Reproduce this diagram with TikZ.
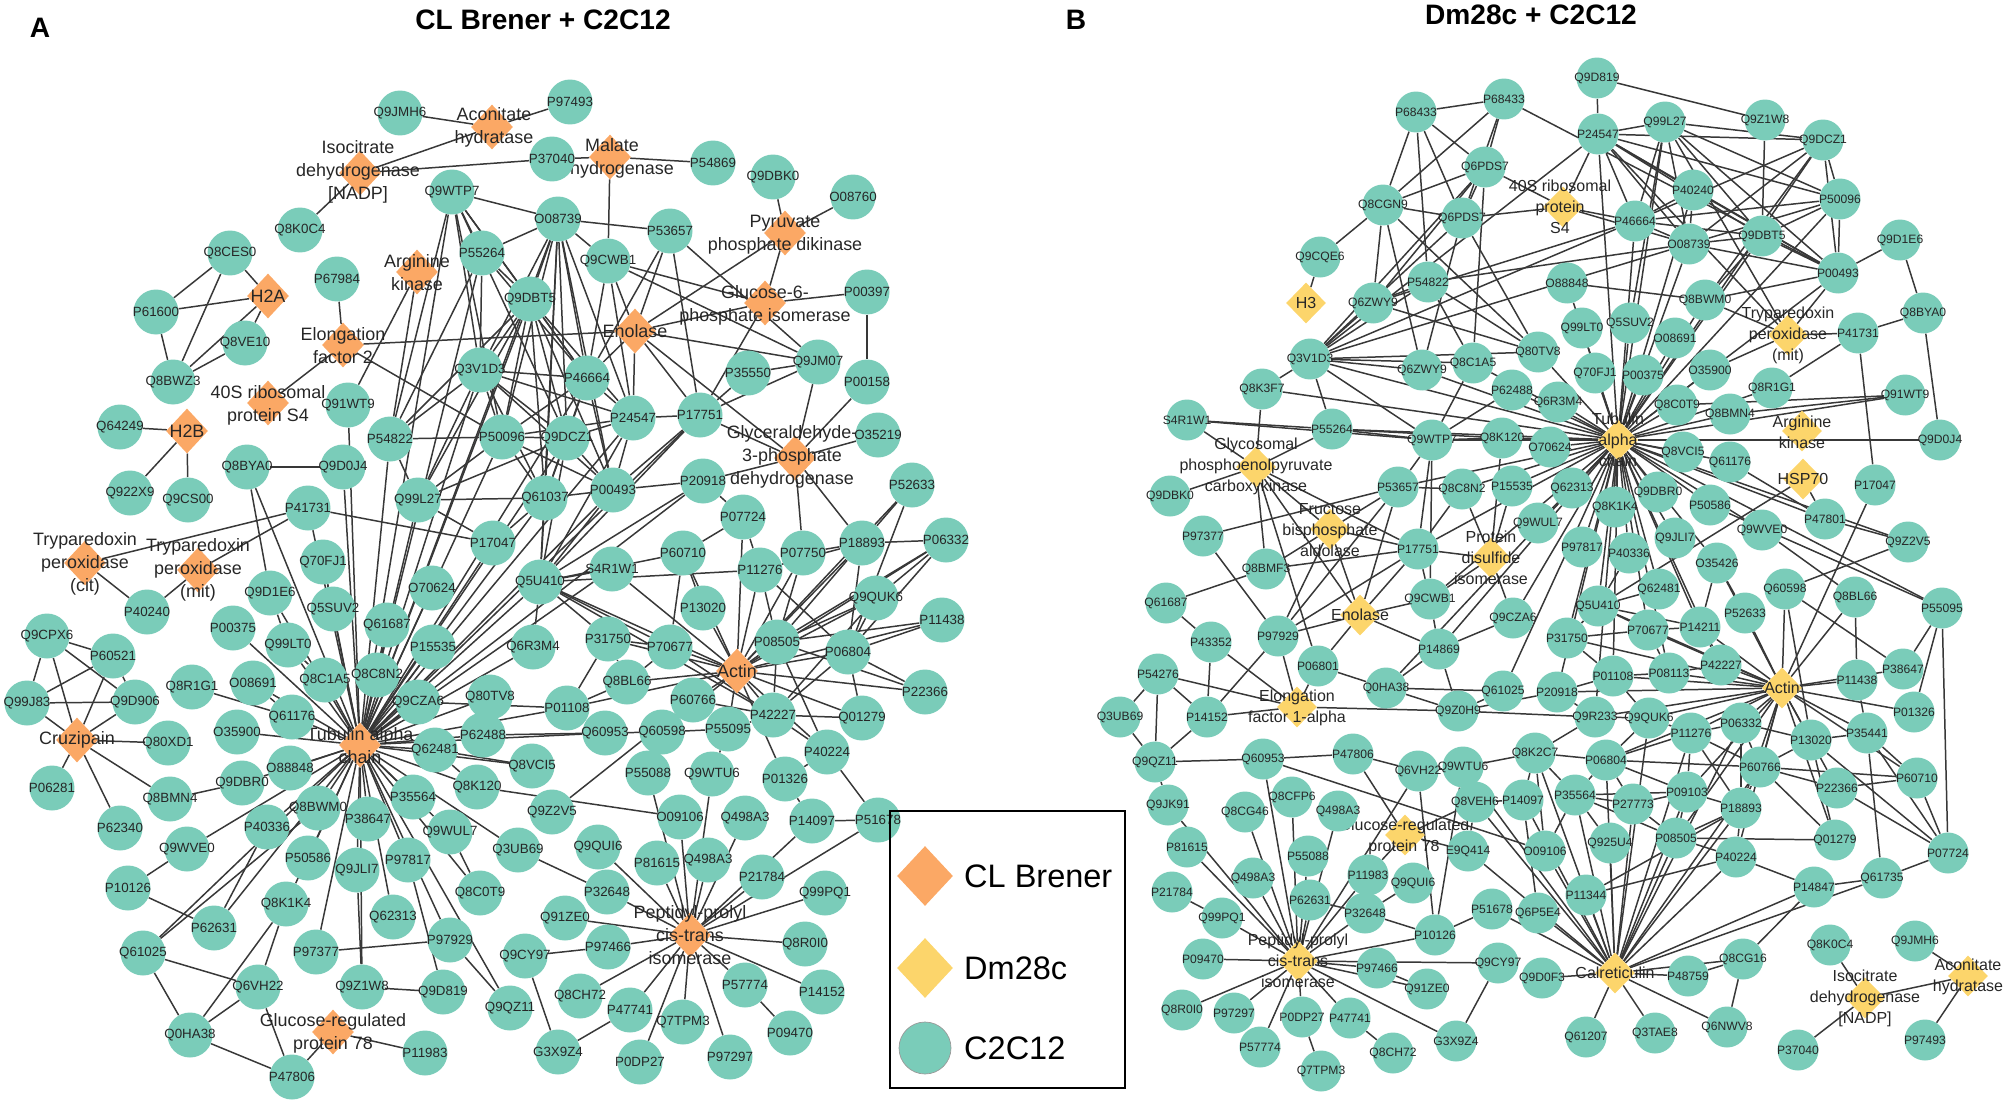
\documentclass[tikz,border=0pt]{standalone}
\usepackage{fontspec}
\setmainfont{Liberation Sans}
\usetikzlibrary{shapes.geometric,backgrounds}
\begin{document}
\begin{tikzpicture}[x=0.02cm,y=-0.02cm,
 prot/.style={circle,fill=mouse,minimum size=0.9cm,inner sep=0pt,font=\fontsize{7.6}{8}\selectfont,text=black!85},
 protb/.style={circle,fill=mouse,minimum size=0.82cm,inner sep=0pt,font=\fontsize{6.9}{7.5}\selectfont,text=black!85},
 cl/.style={diamond,fill=brener,minimum width=0.84cm,minimum height=0.9cm,inner sep=0pt},
 dm/.style={diamond,fill=dmc,minimum width=0.8cm,minimum height=0.82cm,inner sep=0pt},
 dlab/.style={align=center,font=\fontsize{10.2}{13}\selectfont,text=black!85,inner sep=0pt},
 dlabb/.style={align=center,font=\fontsize{9.1}{11.9}\selectfont,text=black!85,inner sep=0pt},
 link/.style={draw=black!78,line width=0.85pt}]
 \definecolor{mouse}{HTML}{7ACCB9}
 \definecolor{brener}{HTML}{FBA865}
 \definecolor{dmc}{HTML}{FCD56B}
 \useasboundingbox (0,0) rectangle (2007,1102);

 \node[font=\bfseries\fontsize{16}{19}\selectfont] (tagA) at (40,28) {A};
 \node[font=\bfseries\fontsize{16}{19}\selectfont] (tagB) at (1076,20) {B};
 \node[font=\bfseries\fontsize{16}{19}\selectfont] (titleA) at (543,20) {CL Brener + C2C12};
 \node[font=\bfseries\fontsize{16}{19}\selectfont] (titleB) at (1531,15) {Dm28c + C2C12};

 % panel A
 \node[cl] (aIDH) at (360,173) {};
 \node[cl] (aACO) at (492,127) {};
 \node[cl] (aMDH) at (610,157) {};
 \node[cl] (aPPDK) at (785,233) {};
 \node[cl] (aARK) at (417,272) {};
 \node[cl] (aH2A) at (268,296) {};
 \node[cl] (aEF2) at (343,345) {};
 \node[cl] (aG6PI) at (765,303) {};
 \node[cl] (aENO) at (635,331) {};
 \node[cl] (aRPS4) at (268,403) {};
 \node[cl] (aH2B) at (187,431) {};
 \node[cl] (aGAPDH) at (795,458) {};
 \node[cl] (aTXNc) at (85,563) {};
 \node[cl] (aTXNm) at (198,570) {};
 \node[cl] (aACT) at (737,671) {};
 \node[cl] (aCZP) at (77,740) {};
 \node[cl] (aTUB) at (360,745) {};
 \node[cl] (aPPI) at (690,935) {};
 \node[cl] (aGRP) at (333,1032) {};

 \node[dlab] (aIDH-t) at (358,172) {Isocitrate\\dehydrogenase\\{[NADP]}};
 \node[dlab] (aACO-t) at (494,127) {Aconitate\\hydratase};
 \node[dlab] (aMDH-t) at (612,158) {Malate\\dehydrogenase};
 \node[dlab] (aPPDK-t) at (785,235) {Pyruvate\\phosphate dikinase};
 \node[dlab] (aARK-t) at (417,273) {Arginine\\kinase};
 \node[dlab] (aH2A-t) at (268,296) {H2A};
 \node[dlab] (aEF2-t) at (343,346) {Elongation\\factor 2};
 \node[dlab] (aG6PI-t) at (765,305) {Glucose-6-\\phosphate isomerase};
 \node[dlab] (aENO-t) at (635,331) {Enolase};
 \node[dlab] (aRPS4-t) at (268,405) {40S ribosomal\\protein S4};
 \node[dlab] (aH2B-t) at (187,431) {H2B};
 \node[dlab] (aGAPDH-t) at (792,457) {Glyceraldehyde-\\3-phosphate\\dehydrogenase};
 \node[dlab] (aTXNc-t) at (85,564) {Tryparedoxin\\peroxidase\\(cit)};
 \node[dlab] (aTXNm-t) at (198,570) {Tryparedoxin\\peroxidase\\(mit)};
 \node[dlab] (aACT-t) at (737,671) {Actin};
 \node[dlab] (aCZP-t) at (77,740) {Cruzipain};
 \node[dlab] (aTUB-t) at (360,746) {Tubulin alpha\\chain};
 \node[dlab] (aPPI-t) at (690,935) {Peptidyl-prolyl\\cis-trans\\isomerase};
 \node[dlab] (aGRP-t) at (333,1033) {Glucose-regulated\\protein 78};

 \foreach \nm/\xx/\yy in {Q9JMH6/400/113, P97493/570/102, P37040/552/159, P54869/713/163, Q9DBK0/773/177, O08760/853/197, Q8K0C4/300/230, Q9WTP7/452/192, O08739/558/219, P53657/670/231, Q8CES0/230/253, P55264/482/253, Q9CWB1/608/261, P67984/337/279, P61600/156/312, Q8VE10/245/343, P00397/867/292, Q9DBT5/530/299, Q8BWZ3/173/382, Q91WT9/348/405, Q3V1D3/480/370, P46664/587/378, P35550/748/373, Q9JM07/818/362, P00158/867/382, Q64249/120/427, P54822/390/439, P24547/633/418, P17751/700/415, P50096/502/437, Q9DCZ1/567/438, O35219/878/435, Q8BYA0/247/467, Q9D0J4/343/467, Q922X9/130/493, Q9CS00/188/500, Q99L27/418/500, P41731/308/508, P20918/703/481, P00493/613/490, Q61037/545/498, P52633/912/485, P07724/743/517, P17047/493/543, P06332/946/540, P18893/862/543, P60710/683/553, P07750/803/553, Q70FJ1/323/562, S4R1W1/612/569, P11276/760/570, Q5U410/540/582, O70624/432/588, Q9D1E6/270/593, Q9QUK6/876/598, P13020/703/608, Q5SUV2/333/609, P40240/147/612, P11438/942/620, Q61687/387/625, P00375/233/628, Q9CPX6/47/636, P31750/608/639, Q99LT0/288/645, P15535/433/647, Q6R3M4/533/647, P70677/670/647, P08505/777/642, P06804/848/652, P60521/113/656, Q8C1A5/325/680, Q8C8N2/377/675, Q8BL66/627/682, Q8R1G1/192/687, O08691/253/683, P22366/925/692, Q80TV8/490/697, P60766/693/700, Q99J83/27/703, Q9D906/135/702, Q9CZA6/418/702, P01108/567/708, P42227/773/715, Q01279/862/718, Q61176/292/717, O35900/237/732, P62488/483/735, Q60953/605/733, Q60598/662/732, P55095/728/729, Q80XD1/168/743, Q62481/435/750, P40224/827/752, Q8VCI5/532/766, O88848/290/768, P55088/648/773, Q9WTU6/712/774, P01326/785/779, Q9DBR0/242/783, Q8K120/477/787, P06281/52/788, P35564/413/797, Q8BMN4/170/799, Q8BWM0/318/808, Q9Z2V5/552/812, O09106/680/817, P14097/812/821, P51678/878/820, P38647/368/819, P40336/267/827, P62340/120/828, Q9WUL7/450/832, Q9WVE0/187/849, Q3UB69/518/850, Q9QUI6/598/847, P50586/308/858, P97817/408/860, P81615/657/863, Q9JLI7/357/870, P21784/762/877, P10126/128/888, Q8C0T9/480/893, P32648/607/892, Q99PQ1/825/893, Q8K1K4/286/904, Q62313/393/917, Q91ZE0/565/918, P62631/214/928, P97929/450/940, P97466/608/947, Q8R0I0/805/944, P97377/316/952, Q61025/143/953, Q9CY97/525/956, P57774/745/985, Q6VH22/258/987, Q9Z1W8/362/987, Q9D819/443/992, P14152/822/992, Q8CH72/580/996, Q9QZ11/510/1008, P47741/630/1010, Q7TPM3/683/1022, P09470/790/1033, Q0HA38/190/1035, P11983/425/1053, G3X9Z4/558/1052, P97297/730/1057, P0DP27/640/1062, P47806/292/1077}
  \node[prot] (a\nm) at (\xx,\yy) {\makebox[0pt]{\nm}};
 \node[prot] (aQ498A3a) at (745,818) {\makebox[0pt]{Q498A3}};
 \node[prot] (aQ498A3b) at (708,860) {\makebox[0pt]{Q498A3}};

 % panel B
 \node[dm] (bH3) at (1306,303) {};
 \node[dm] (bRPS4) at (1563,207) {};
 \node[dm] (bTXNm) at (1788,335) {};
 \node[dm] (bTUB) at (1618,440) {};
 \node[dm] (bARK) at (1802,431) {};
 \node[dm] (bHSP) at (1803,479) {};
 \node[dm] (bPEPCK) at (1256,467) {};
 \node[dm] (bFBA) at (1330,529) {};
 \node[dm] (bPDI) at (1491,558) {};
 \node[dm] (bENO) at (1360,615) {};
 \node[dm] (bEF1) at (1297,707) {};
 \node[dm] (bACT) at (1782,688) {};
 \node[dm] (bGRP) at (1405,835) {};
 \node[dm] (bPPI) at (1298,961) {};
 \node[dm] (bCRT) at (1615,973) {};
 \node[dm] (bIDH) at (1865,998) {};
 \node[dm] (bACO) at (1968,976) {};

 \node[dlabb] (bH3-t) at (1306,303) {H3};
 \node[dlabb] (bRPS4-t) at (1560,207) {40S ribosomal\\protein\\S4};
 \node[dlabb] (bTXNm-t) at (1788,335) {Tryparedoxin\\peroxidase\\(mit)};
 \node[dlabb] (bTUB-t) at (1618,440) {Tubulin\\alpha\\chain};
 \node[dlabb] (bARK-t) at (1802,432) {Arginine\\kinase};
 \node[dlabb] (bHSP-t) at (1803,479) {HSP70};
 \node[dlabb] (bPEPCK-t) at (1256,466) {Glycosomal\\phosphoenolpyruvate\\carboxykinase};
 \node[dlabb] (bFBA-t) at (1330,530) {Fructose\\bisphosphate\\aldolase};
 \node[dlabb] (bPDI-t) at (1491,558) {Protein\\disulfide\\isomerase};
 \node[dlabb] (bENO-t) at (1360,615) {Enolase};
 \node[dlabb] (bEF1-t) at (1297,708) {Elongation\\factor 1-alpha};
 \node[dlabb] (bACT-t) at (1782,688) {Actin};
 \node[dlabb] (bGRP-t) at (1404,837) {Glucose-regulated\\protein 78};
 \node[dlabb] (bPPI-t) at (1298,961) {Peptidyl-prolyl\\cis-trans\\isomerase};
 \node[dlabb] (bCRT-t) at (1615,973) {Calreticulin};
 \node[dlabb] (bIDH-t) at (1865,998) {Isocitrate\\dehydrogenase\\{[NADP]}};
 \node[dlabb] (bACO-t) at (1968,977) {Aconitate\\hydratase};

 \foreach \nm/\xx/\yy in {Q9D819/1597/78, P24547/1598/134, Q99L27/1665/122, Q9Z1W8/1765/120, Q9DCZ1/1823/140, P40240/1693/190, P50096/1840/199, Q8CGN9/1383/205, P46664/1635/221, O08739/1689/244, Q9DBT5/1762/236, Q9D1E6/1900/240, Q9CQE6/1320/257, P00493/1838/273, P54822/1428/282, O88848/1567/283, Q8BWM0/1705/300, Q8BYA0/1923/313, Q99LT0/1582/328, Q5SUV2/1630/323, O08691/1675/338, P41731/1858/333, Q80TV8/1538/352, Q3V1D3/1310/359, Q8C1A5/1473/363, Q70FJ1/1595/373, P00375/1643/375, O35900/1710/370, Q8R1G1/1772/388, Q91WT9/1905/395, Q8K3F7/1262/389, P62488/1512/390, Q6R3M4/1558/402, Q8C0T9/1677/405, Q8BMN4/1730/414, S4R1W1/1187/420, P55264/1332/429, Q9WTP7/1432/440, Q8K120/1502/438, Q9D0J4/1940/440, O70624/1550/447, Q8VCI5/1683/452, Q61176/1730/462, P17047/1875/485, Q62313/1572/488, Q9DBR0/1658/492, Q9DBK0/1170/496, P53657/1398/487, Q8C8N2/1462/489, P15535/1512/486, Q8K1K4/1615/507, P50586/1710/505, P47801/1825/519, Q9WUL7/1538/523, P97377/1203/536, Q9JLI7/1675/538, Q9WVE0/1762/530, Q9Z2V5/1908/542, P97817/1582/547, P40336/1629/553, P17751/1418/549, O35426/1717/563, Q8BMF3/1266/569, Q62481/1659/589, Q60598/1785/589, Q8BL66/1855/597, Q9CWB1/1430/599, Q61687/1166/603, Q5U410/1598/606, P55095/1942/608, P52633/1745/613, Q9CZA6/1513/618, P70677/1648/630, P14211/1700/627, P31750/1567/638, P97929/1278/636, P43352/1211/642, P14869/1439/649, P42227/1721/665, P38647/1903/669, P06801/1318/666, P54276/1158/674, P01108/1613/676, P08113/1669/673, P11438/1857/680, Q0HA38/1386/688, Q61025/1503/691, P20918/1557/692, Q9Z0H9/1458/711, P01326/1914/712, Q3UB69/1120/717, P14152/1207/717, Q9R233/1595/717, Q9QUK6/1649/718, P06332/1741/723, P11276/1691/733, P13020/1811/740, P35441/1867/733, Q8K2C7/1535/753, P47806/1353/754, Q60953/1263/759, Q9QZ11/1155/762, P06804/1606/760, P60766/1760/767, Q6VH22/1418/771, Q9WTU6/1463/767, P60710/1917/778, P35564/1575/795, P09103/1687/792, P22366/1837/788, P14097/1523/800, Q8VEH6/1475/802, Q8CFP6/1292/797, P27773/1633/804, P18893/1741/808, Q9JK91/1168/805, Q8CG46/1245/812, P08505/1676/838, Q925U4/1610/843, Q01279/1835/840, P81615/1187/847, O09106/1545/851, E9Q414/1468/851, P55088/1308/856, P07724/1948/853, P40224/1736/857, P11983/1368/875, Q61735/1882/878, Q9QUI6/1413/883, P14847/1814/887, P21784/1172/892, P11344/1586/895, P62631/1310/900, P51678/1492/909, Q6P5E4/1538/913, P32648/1365/913, Q99PQ1/1222/918, P10126/1435/935, Q9JMH6/1915/941, Q8K0C4/1830/945, P09470/1203/959, Q8CG16/1743/959, Q9CY97/1498/963, P97466/1377/968, P48759/1688/976, Q9D0F3/1542/978, Q91ZE0/1427/989, Q8R0I0/1182/1010, P97297/1234/1013, P0DP27/1302/1017, P47741/1350/1018, Q6NWV8/1727/1027, Q3TAE8/1655/1033, Q61207/1586/1037, P97493/1925/1040, G3X9Z4/1456/1041, P57774/1260/1047, P37040/1798/1050, Q8CH72/1393/1053, Q7TPM3/1321/1071}
  \node[protb] (b\nm) at (\xx,\yy) {\makebox[0pt]{\nm}};
 \node[protb] (bP68433a) at (1416,112) {\makebox[0pt]{P68433}};
 \node[protb] (bP68433b) at (1504,99) {\makebox[0pt]{P68433}};
 \node[protb] (bQ6PDS7a) at (1485,167) {\makebox[0pt]{Q6PDS7}};
 \node[protb] (bQ6PDS7b) at (1462,218) {\makebox[0pt]{Q6PDS7}};
 \node[protb] (bQ6ZWY9a) at (1373,303) {\makebox[0pt]{Q6ZWY9}};
 \node[protb] (bQ6ZWY9b) at (1422,370) {\makebox[0pt]{Q6ZWY9}};
 \node[protb] (bQ498A3a) at (1338,811) {\makebox[0pt]{Q498A3}};
 \node[protb] (bQ498A3b) at (1253,878) {\makebox[0pt]{Q498A3}};

 % legend
 \draw[line width=1.3pt] (890,811) rectangle (1125,1088);
 \node[diamond,fill=brener,minimum width=1.12cm,minimum height=1.2cm,inner sep=0pt] (keyCL) at (925,876) {};
 \node[diamond,fill=dmc,minimum width=1.12cm,minimum height=1.2cm,inner sep=0pt] (keyDM) at (925,968) {};
 \node[circle,fill=mouse,draw=black!40,minimum size=1.04cm,inner sep=0pt] (keyMM) at (925,1048) {};
 \node[anchor=west,font=\fontsize{18.5}{22}\selectfont] (keyCL-t) at (958,876) {CL Brener};
 \node[anchor=west,font=\fontsize{18.5}{22}\selectfont] (keyDM-t) at (958,968) {Dm28c};
 \node[anchor=west,font=\fontsize{18.5}{22}\selectfont] (keyMM-t) at (958,1048) {C2C12};

 \begin{scope}[on background layer]
 \foreach \pb in {Q9WTP7,O08739,P55264,Q9DBT5,Q3V1D3,P46664,P50096,Q9DCZ1,P24547,P00493,Q61037,P54822,Q99L27,Q91WT9,Q9D0J4,Q8BYA0,Q70FJ1,Q5SUV2,Q9D1E6,Q99LT0,P00375,Q8C1A5,Q8C8N2,Q61687,O70624,P15535,Q9CZA6,Q62481,O08691,Q61176,O35900,O88848,Q9DBR0,Q8BWM0,P40336,Q9WVE0,P50586,Q8K1K4,Q9JLI7,P38647,P97817,P35564,Q9WUL7,Q62313,P97377,Q9Z1W8,P97929,Q9QZ11,Q8C0T9,Q3UB69,Q8K120,Q8VCI5,P62488,Q80TV8,Q6R3M4,Q5U410,P17047,S4R1W1,Q61025,P62631,P20918,P17751,Q60953,P01108,P41731}
  \draw[link] (aTUB) -- (a\pb);
 \foreach \pb in {P70677,P31750,P08505,P06804,P42227,P60766,P11276,P13020,P60710,P07724,P18893,P07750,P06332,Q9QUK6,P11438,P22366,Q01279,P40224,P55095,Q60598,Q8BL66,Q5U410,S4R1W1,P01108,P01326,P52633}
  \draw[link] (aACT) -- (a\pb);
 \foreach \pb in {P32648,Q9QUI6,P81615,P55088,O09106,Q9WTU6,P21784,P14097,P51678,Q99PQ1,Q8R0I0,P14152,P57774,P97297,Q7TPM3,P0DP27,P47741,Q8CH72,P97466,Q91ZE0,Q498A3a,Q498A3b}
  \draw[link] (aPPI) -- (a\pb);
 \foreach \pa/\pb in {Q9WTP7/O08739, Q9WTP7/P55264, Q9WTP7/Q9DBT5, Q9WTP7/Q3V1D3, Q9WTP7/P46664, Q9WTP7/P54822, Q9WTP7/Q9DCZ1, Q9WTP7/P50096, O08739/P53657, O08739/P55264, O08739/Q9CWB1, O08739/Q9DBT5, O08739/Q3V1D3, O08739/P46664, O08739/P24547, O08739/P50096, O08739/Q9DCZ1, O08739/P00493, O08739/Q61037, O08739/Q5U410, P55264/Q9DBT5, P55264/Q3V1D3, P55264/P46664, P55264/P54822, Q9DBT5/Q3V1D3, Q9DBT5/P46664, Q9DBT5/P50096, Q9DBT5/Q9DCZ1, Q9DBT5/P00493, Q9DBT5/Q61037, Q9DBT5/P54822, Q9DBT5/Q99L27, Q9DBT5/P24547, Q3V1D3/P46664, Q3V1D3/P50096, Q3V1D3/Q9DCZ1, Q3V1D3/P00493, Q3V1D3/Q61037, Q3V1D3/P54822, Q3V1D3/Q99L27, Q3V1D3/P24547, P46664/P24547, P46664/P50096, P46664/Q9DCZ1, P46664/P00493, P46664/Q61037, P46664/Q9CWB1, P50096/Q9DCZ1, P50096/P00493, P50096/Q61037, P50096/Q99L27, P50096/P24547, Q9DCZ1/P24547, Q9DCZ1/P00493, Q9DCZ1/Q61037, Q9DCZ1/Q5U410, P24547/P00493, P24547/P17751, P24547/Q5U410, P24547/Q9CWB1, P00493/Q61037, P00493/Q5U410, P00493/P20918, P00493/P17751, Q61037/Q5U410, Q61037/Q99L27, Q61037/P17047, P54822/Q99L27, P54822/P50096, Q99L27/Q9DCZ1, Q5U410/S4R1W1, Q5U410/P11276, Q5U410/P70677, Q5U410/P31750, Q5U410/P42227, Q5U410/P20918, Q5U410/P17751, Q5U410/P60710, Q5U410/Q6R3M4, P17047/Q99L27, P41731/P17047, ENO/Q9CWB1, ENO/P53657, ENO/P46664, ENO/P24547, ENO/P17751, ENO/GAPDH, ENO/Q9JM07, ENO/G6PI, ENO/PPDK, ENO/EF2, EF2/P67984, EF2/RPS4, EF2/P50096, PPDK/Q9DBK0, PPDK/O08760, PPDK/G6PI, G6PI/P00397, G6PI/P17751, G6PI/Q9CWB1, P53657/Q9JM07, P00397/P00158, Q9JM07/P35550, Q9JM07/P17751, Q9JM07/GAPDH, Q9JM07/Q9CWB1, P35550/P17751, GAPDH/P17751, GAPDH/P20918, GAPDH/O35219, GAPDH/P07750, GAPDH/P18893, GAPDH/P00158, P53657/P17751, P53657/P46664, MDH/P37040, MDH/P54869, MDH/Q9CWB1, ACO/Q9JMH6, ACO/P97493, ACO/IDH, IDH/P37040, IDH/Q8K0C4, ARK/Q91WT9, ARK/P54822, H2A/Q8CES0, H2A/P61600, H2A/Q8VE10, H2A/Q8BWZ3, Q8CES0/P61600, Q8CES0/Q8BWZ3, P61600/Q8BWZ3, Q8BWZ3/Q8VE10, H2B/Q64249, H2B/Q922X9, H2B/Q9CS00, TXNc/P41731, TXNc/P40240, TXNm/P41731, TXNm/P40240, Q8BYA0/Q9D0J4, Q8BYA0/Q9D1E6, Q9D1E6/Q99LT0, Q70FJ1/Q5SUV2, Q99LT0/Q8C1A5, Q8R1G1/Q61176, O08691/Q61176, CZP/Q9CPX6, CZP/P60521, CZP/Q99J83, CZP/Q9D906, CZP/Q80XD1, CZP/P06281, CZP/P62340, CZP/Q8BMN4, Q9CPX6/P60521, Q9CPX6/Q99J83, Q9CPX6/Q9D906, P60521/Q99J83, P60521/Q9D906, Q99J83/Q9D906, Q8BMN4/Q9DBR0, Q9WVE0/P10126, P10126/P62631, P62631/P40336, Q61025/Q8BWM0, Q61025/Q6VH22, Q61025/Q0HA38, Q0HA38/Q8K1K4, Q0HA38/Q6VH22, Q0HA38/P47806, Q6VH22/Q8K1K4, Q6VH22/P47806, P47806/GRP, GRP/P11983, Q9Z1W8/Q9D819, Q9Z1W8/Q9JLI7, P97377/P97929, P97929/Q9QZ11, Q9WUL7/Q8C0T9, P97817/Q9D819, Q8VCI5/Q62481, Q8K120/O09106, Q8K120/Q62481, Q9Z2V5/P60766, Q3UB69/P32648, P62488/Q60953, P62488/Q80TV8, Q60953/Q60598, Q60598/P55095, Q60598/P60766, P55095/P42227, P01108/P31750, P01108/Q8BL66, P01108/Q9CZA6, P31750/P70677, P31750/Q8BL66, P70677/Q8BL66, P70677/P60710, P70677/P42227, P13020/P60710, P60710/P07724, P20918/P07724, P07724/P11276, Q9WTU6/P55095, P01326/P14097, P14097/P51678, P51678/P40224, P40224/P42227, P40224/P01326, Q01279/P42227, P42227/P60766, P06332/P18893, P06332/Q9QUK6, P06332/P08505, P06332/P06804, P18893/P08505, P18893/P06804, P18893/P07750, P18893/P11276, Q9QUK6/P08505, Q9QUK6/P06804, Q9QUK6/P42227, P11438/P06804, P11438/P08505, P22366/P06804, P22366/P08505, Q01279/P06804, P40224/P08505, P42227/P08505, P42227/P06804, P11276/P08505, P11276/P06804, P07750/P08505, P52633/P18893, P52633/P06804, Q9CY97/P97466, Q9CY97/G3X9Z4, G3X9Z4/P47741, P57774/P09470}
  \draw[link] (a\pa) -- (a\pb);

 \foreach \pb in {P55264,Q9WTP7,Q8K120,O70624,Q6R3M4,Q8C0T9,Q8BMN4,Q8VCI5,Q61176,Q62313,Q8K1K4,Q9DBR0,P50586,Q9JLI7,Q9WVE0,P97817,P40336,Q9WUL7,O35426,Q62481,Q5U410,P31750,P70677,P14211,P42227,P01108,P08113,P20918,Q9R233,P15535,Q8C8N2,P53657,Q3V1D3,Q8C1A5,Q80TV8,P62488,Q99LT0,Q70FJ1,P00375,O08691,Q5SUV2,O88848,Q8BWM0,O08739,P46664,P24547,Q9CZA6,P17751,Q9D0J4,Q9Z2V5,P55095,P47801,Q0HA38,P14869,Q61025,Q8K3F7,Q9DCZ1,P50096,P00493,Q9DBT5,Q99L27,P40240,O35900,Q8R1G1,Q91WT9,Q6ZWY9b,Q9CWB1}
  \draw[link] (bTUB) -- (b\pb);
 \foreach \pb in {P42227,P14211,P08113,P70677,P31750,P01108,P06332,P11276,P13020,P35441,P11438,P38647,P01326,P60766,P60710,P22366,P18893,P08505,P09103,Q9QUK6,Q9R233,P52633,Q60598,O35426,P17047,Q01279,P20918,Q5U410,P06804,P40224,Q8BL66}
  \draw[link] (bACT) -- (b\pb);
 \foreach \pb in {P35564,Q925U4,P08505,P40224,P11344,Q6P5E4,O09106,Q9D0F3,P48759,Q8CG16,Q6NWV8,Q3TAE8,Q61207,P14847,Q61735,P18893,P09103,P27773,P06804,Q8K2C7,P11276,P06332,P14097,Q8VEH6,P51678,Q9WTU6,E9Q414,Q9QUK6,P60766}
  \draw[link] (bCRT) -- (b\pb);
 \foreach \pb in {Q9JK91,Q8CG46,Q8CFP6,P55088,P81615,Q99PQ1,P09470,Q8R0I0,P97297,P57774,P0DP27,P47741,G3X9Z4,P97466,Q9CY97,P10126,P32648,P62631,P11983,Q6VH22,Q60953,Q498A3a,Q498A3b,Q91ZE0}
  \draw[link] (bPPI) -- (b\pb);
 \foreach \pa/\pb in {P68433a/P68433b, P68433a/Q8CGN9, P68433a/Q6PDS7a, P68433a/Q6PDS7b, P68433a/P54822, P68433b/Q6PDS7a, P68433b/Q8CGN9, P68433b/Q6PDS7b, P68433b/P00493, Q6PDS7a/Q8CGN9, Q6PDS7a/Q6PDS7b, Q6PDS7a/RPS4, Q6PDS7a/Q6ZWY9a, Q6PDS7a/Q3V1D3, Q6PDS7a/Q8C1A5, Q6PDS7b/Q8CGN9, Q6PDS7b/RPS4, Q6PDS7b/Q3V1D3, Q6PDS7b/Q6ZWY9b, Q6PDS7b/Q80TV8, Q8CGN9/Q9CQE6, Q8CGN9/Q6ZWY9a, Q8CGN9/Q6ZWY9b, Q8CGN9/Q80TV8, H3/Q9CQE6, Q3V1D3/P54822, Q3V1D3/Q6ZWY9a, Q3V1D3/Q80TV8, Q3V1D3/Q8C1A5, Q3V1D3/O08739, Q3V1D3/P46664, Q3V1D3/P24547, Q3V1D3/P55264, Q3V1D3/Q8K3F7, Q3V1D3/Q6ZWY9b, P54822/Q6ZWY9a, P54822/Q8C1A5, P54822/Q80TV8, P54822/O08739, Q6ZWY9a/Q80TV8, Q6ZWY9a/P46664, Q9D819/P24547, Q9D819/Q9Z1W8, P24547/Q99L27, P24547/Q9DCZ1, P24547/P40240, P24547/P50096, P24547/P46664, P24547/O08739, P24547/Q9DBT5, P24547/P00493, P24547/RPS4, Q99L27/Q9DCZ1, Q99L27/P50096, Q99L27/P46664, Q99L27/O08739, Q99L27/Q9DBT5, Q99L27/P00493, Q99L27/Q5SUV2, Q9Z1W8/Q9DBT5, Q9DCZ1/P50096, Q9DCZ1/P00493, Q9DCZ1/O08739, Q9DCZ1/P46664, Q9DCZ1/Q8BWM0, P50096/P00493, P50096/O08739, P50096/P46664, P50096/Q9DBT5, P40240/P00493, P40240/P46664, P40240/O08739, O08739/Q9DBT5, O08739/P00493, O08739/P46664, Q9DBT5/P00493, Q9DBT5/P46664, Q9DBT5/Q8BWM0, Q8BWM0/P00493, Q8BWM0/O88848, RPS4/P46664, RPS4/O08739, TXNm/P41731, TXNm/Q8BWM0, TXNm/P24547, TXNm/Q99L27, TXNm/O35900, TXNm/P00493, P41731/Q8BYA0, Q8BYA0/Q9D1E6, Q9D1E6/P00493, P41731/Q8R1G1, P41731/P17047, Q8BYA0/Q9D0J4, Q91WT9/Q8BMN4, Q91WT9/Q8C0T9, HSP/Q5U410, HSP/P47801, Q61176/P47801, P47801/Q9Z2V5, Q9Z2V5/Q60598, P50586/P55095, Q9WVE0/Q8BL66, Q60598/P38647, Q8BL66/P11438, P55095/P01326, P55095/P38647, P55095/P07724, Q60598/P13020, O35426/P14211, O35426/P52633, Q62481/Q5U410, P40336/Q5U410, PEPCK/S4R1W1, PEPCK/Q9DBK0, PEPCK/P55264, PEPCK/Q8K3F7, PEPCK/FBA, PEPCK/ENO, PEPCK/P06801, PEPCK/Q8BMF3, PEPCK/P17751, FBA/P53657, FBA/Q8BMF3, FBA/ENO, FBA/P17751, FBA/P97929, ENO/P97929, ENO/P06801, ENO/Q9CWB1, ENO/P14869, ENO/P53657, ENO/P17751, PDI/P15535, PDI/Q8K120, PDI/Q9CZA6, PDI/P17751, PDI/Q9CWB1, PDI/Q8C8N2, EF1/P54276, EF1/P43352, EF1/P06801, EF1/Q9Z0H9, EF1/P14152, EF1/P97929, P97377/P53657, P97377/P97929, Q61687/Q8BMF3, Q61687/P43352, P43352/P14152, P54276/Q3UB69, P54276/P14152, P97929/P14152, P97929/P53657, P97929/P17751, P06801/Q0HA38, Q0HA38/Q61025, Q0HA38/P14869, Q0HA38/Q9Z0H9, Q9Z0H9/P14869, Q9Z0H9/Q61025, Q9Z0H9/P20918, Q9Z0H9/Q9R233, P14869/Q9CWB1, P14869/Q9CZA6, Q9CWB1/P17751, Q9CWB1/Q9WTP7, P17751/Q9WTP7, P17751/Q8C8N2, P53657/Q9WTP7, P53657/Q8C8N2, Q8BMF3/P17751, S4R1W1/Q9WTP7, S4R1W1/P55264, P55264/Q9WTP7, P55264/Q8K120, Q9WTP7/Q8K120, Q9WTP7/P62488, Q9WTP7/Q3V1D3, Q9WTP7/Q8C1A5, Q60953/Q9QZ11, Q60953/O09106, Q60953/P47806, Q9QZ11/Q9JK91, Q9QZ11/P54276, Q9QZ11/Q3UB69, Q9QZ11/P14152, P21784/Q99PQ1, P47741/Q8CH72, P0DP27/Q7TPM3, P97466/Q91ZE0, Q9CY97/G3X9Z4, P10126/P32648, P10126/P51678, P10126/Q9WTU6, P10126/Q6VH22, P32648/Q9QUI6, P32648/P62631, P11983/GRP, GRP/P47806, GRP/E9Q414, GRP/Q8VEH6, P47806/Q6VH22, Q6VH22/Q9WTU6, Q9WTU6/Q8K2C7, Q8VEH6/P14097, P14097/Q8K2C7, E9Q414/Q8VEH6, P60710/P07724, P60710/P35441, P60710/P60766, P60710/P22366, P22366/P07724, P22366/P60766, Q01279/P08505, Q01279/P60766, Q01279/P13020, P07724/Q61735, P07724/P35441, P07724/P13020, Q61735/P14847, Q61735/P35441, P14847/P40224, P14847/Q8CG16, P40224/P08505, P40224/P11344, P40224/P18893, P08505/P18893, P08505/P09103, P08505/P35564, P08505/P27773, P35564/P27773, P35564/P06804, P35564/P09103, P27773/P09103, P27773/P06804, P09103/P18893, P09103/P06804, P09103/P11276, P18893/P60766, P18893/P11276, P18893/P06332, P06804/P11276, P06804/Q9QUK6, P06804/P60766, P06804/Q8K2C7, P11276/P06332, P11276/Q9QUK6, P11276/P60766, P06332/P60766, P06332/P13020, P13020/P35441, P13020/P60766, P35441/P11438, Q9QUK6/Q9R233, Q9QUK6/P01108, Q9R233/P20918, Q9R233/Q8K2C7, P01108/P08113, P08113/P42227, P42227/P14211, P70677/P08113, P70677/P14211, P31750/P70677, P31750/P01108, P31750/Q5U410, Q5U410/P70677, Q5U410/P14211, P20918/P01108, Q8K2C7/P35564, Q925U4/P35564, O09106/P35564, O09106/Q8K2C7, P11344/P18893, Q6P5E4/P14097, Q8CG16/P48759, Q8CG16/Q6NWV8, IDH/ACO, IDH/Q8K0C4, IDH/P37040, ACO/Q9JMH6, ACO/P97493}
  \draw[link] (b\pa) -- (b\pb);
 \end{scope}
\end{tikzpicture}
\end{document}
